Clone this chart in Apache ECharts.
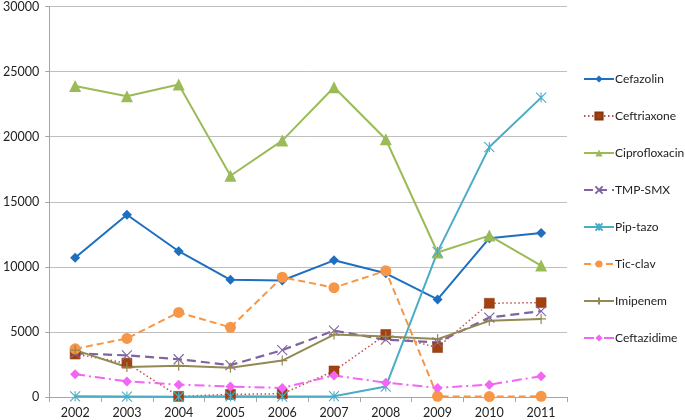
<!DOCTYPE html>
<html><head><meta charset="utf-8">
<script src="https://cdn.jsdelivr.net/npm/echarts@6/dist/echarts.min.js"></script>
<style>html,body{margin:0;padding:0;background:#fff}#c{width:685px;height:420px}</style>
</head><body><div id="c"></div>
<script>
const years = ['2002','2003','2004','2005','2006','2007','2008','2009','2010','2011'];
const cefazolin     = [10700, 14000, 11200, 9000, 8950, 10500, 9500, 7500, 12200, 12600];
const ceftriaxone   = [3300, 2600, 50, 200, 250, 2000, 4800, 3800, 7200, 7250];
const ciprofloxacin = [23900, 23100, 24000, 17000, 19700, 23800, 19800, 11100, 12400, 10100];
const tmpSmx        = [3350, 3200, 2900, 2450, 3600, 5100, 4400, 4200, 6100, 6600];
const pipTazo       = [50, 30, 20, 50, 30, 60, 800, 11150, 19200, 23000];
const ticClav       = [3700, 4500, 6500, 5350, 9200, 8400, 9700, 50, 30, 50];
const imipenem      = [3600, 2300, 2400, 2250, 2800, 4800, 4650, 4450, 5850, 6000];
const ceftazidime   = [1750, 1200, 950, 800, 700, 1650, 1100, 700, 950, 1600];

const X = 'path://M0,0L10,10M10,0L0,10';
const AST = 'path://M0,0L10,10M10,0L0,10M5,0L5,10';
const PLUS = 'path://M5,0L5,10M0,5L10,5';

function s(name, data, color, lineType, width, symbol, size, extra) {
  const o = {
    name, type: 'line', data, symbol, symbolSize: size,
    lineStyle: {color, width, type: lineType},
    itemStyle: {color},
    emphasis: {disabled: true}
  };
  return Object.assign(o, extra || {});
}
const series = [
  s('Cefazolin', cefazolin, '#1E6FC0', 'solid', 2, 'diamond', 10),
  s('Ceftriaxone', ceftriaxone, '#C0504D', [1.5, 2.5], 1.5, 'rect', 10, {itemStyle: {color: '#A2420F', borderColor: '#8A3510', borderWidth: 0.5}}),
  s('Ciprofloxacin', ciprofloxacin, '#9BBB59', 'solid', 2, 'triangle', 12),
  s('TMP-SMX', tmpSmx, '#8064A2', [9, 5], 2.2, X, 10, {itemStyle: {color: '#8064A2', borderColor: '#8064A2', borderWidth: 1.1}}),
  s('Pip-tazo', pipTazo, '#4BACC6', 'solid', 2, AST, 10, {itemStyle: {color: '#4BACC6', borderColor: '#4BACC6', borderWidth: 1.1}}),
  s('Tic-clav', ticClav, '#F79646', [7, 4], 2, 'circle', 11),
  s('Imipenem', imipenem, '#938953', 'solid', 2, PLUS, 10, {itemStyle: {color: '#938953', borderColor: '#938953', borderWidth: 1.2}}),
  s('Ceftazidime', ceftazidime, '#F366F3', [10, 4, 2, 4], 2, 'diamond', 10)
];

const chart = echarts.init(document.getElementById('c'), null, {renderer: 'canvas'});
chart.setOption({
  animation: false,
  textStyle: {fontFamily: 'Lato, Noto Sans, sans-serif'},
  grid: {left: 45, right: 118, top: 6, bottom: 23, containLabel: false},
  legend: {
    orient: 'vertical', left: 583, top: 73, padding: 0, itemGap: 25, itemWidth: 30, itemHeight: 9,
    textStyle: {fontSize: 12, color: '#222', padding: [0, 0, 0, -4]},
    data: series.map(x => x.name)
  },
  xAxis: {
    type: 'category', data: years, boundaryGap: true,
    axisLine: {lineStyle: {color: '#A6A6A6', width: 1}},
    axisTick: {show: true, length: 5, lineStyle: {color: '#A6A6A6'}},
    axisLabel: {fontSize: 12.5, color: '#222', margin: 9}
  },
  yAxis: {
    type: 'value', min: 0, max: 30000, interval: 5000,
    axisLine: {show: true, lineStyle: {color: '#A6A6A6'}},
    axisTick: {show: true, length: 4, lineStyle: {color: '#A6A6A6'}},
    splitLine: {lineStyle: {color: '#BFBFBF'}},
    axisLabel: {fontSize: 12.5, color: '#222', margin: 10, formatter: v => String(v)}
  },
  series
});
</script></body></html>
